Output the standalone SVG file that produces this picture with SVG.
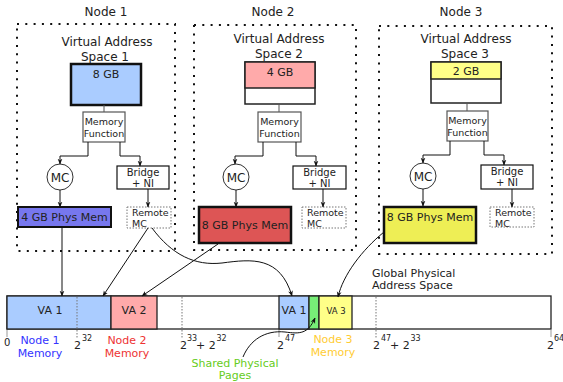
<svg xmlns="http://www.w3.org/2000/svg" width="563" height="382" viewBox="0 0 563 382">
<defs>
<marker id="ah" viewBox="0 0 10 10" refX="9" refY="5" markerWidth="6" markerHeight="6" orient="auto" markerUnits="userSpaceOnUse">
<path d="M0,1 L10,5 L0,9 L3,5 Z" fill="#111"/>
</marker>
<style>
text{font-family:"DejaVu Sans","Liberation Sans",sans-serif;fill:#222}
.t12{font-size:12px}
.t11{font-size:11px}
.t10{font-size:10px}
.t9{font-size:9.5px}
.sup{font-size:8px}
.node{fill:none;stroke:#111;stroke-width:2;stroke-dasharray:2 6.3}
.mf{fill:#fff;stroke:#555;stroke-width:1.2}
.br{fill:#fff;stroke:#111;stroke-width:1.2}
.rmc{fill:#fff;stroke:#777;stroke-width:1;stroke-dasharray:1.5 1.5}
.mc{fill:#fff;stroke:#333;stroke-width:1}
.cn{fill:none;stroke:#111;stroke-width:1}
.gn{fill:none;stroke:#555;stroke-width:1}
.bar{stroke:#222;stroke-width:1.3}
.dot{stroke:#777;stroke-width:1;stroke-dasharray:1.5 1.5}
.tick{stroke:#999;stroke-width:1}
</style>
</defs>

<g id="node1">
<text class="t12" x="106" y="16" text-anchor="middle">Node 1</text>
<rect class="node" x="17" y="24" width="158" height="227"/>
<text class="t12" x="107" y="46" text-anchor="middle">Virtual Address</text>
<text class="t12" x="105" y="61" text-anchor="middle">Space 1</text>
<rect x="71" y="64" width="70" height="41" fill="#aaccff" stroke="#111" stroke-width="2.5"/>
<text class="t11" x="106" y="78" text-anchor="middle">8 GB</text>
<rect class="mf" x="83" y="112" width="42" height="30"/>
<text class="t9" x="104" y="125" text-anchor="middle">Memory</text>
<text class="t9" x="104" y="137" text-anchor="middle">Function</text>
<circle class="mc" cx="60" cy="177" r="13"/>
<text class="t12" x="60" y="181.5" text-anchor="middle">MC</text>
<rect class="br" x="117" y="166" width="52" height="23"/>
<text class="t10" x="143" y="176" text-anchor="middle">Bridge</text>
<text class="t10" x="143" y="187" text-anchor="middle">+ NI</text>
<rect x="18" y="207" width="93" height="20" fill="#7777ee" stroke="#111" stroke-width="2"/>
<text class="t11" x="64.5" y="221" text-anchor="middle">4 GB Phys Mem</text>
<rect class="rmc" x="127" y="207" width="44" height="21"/>
<text class="t9" x="132" y="216">Remote</text>
<text class="t9" x="132" y="227">MC</text>
</g>

<g id="node2">
<text class="t12" x="273" y="16" text-anchor="middle">Node 2</text>
<rect class="node" x="194" y="25" width="162" height="225"/>
<text class="t12" x="279" y="43" text-anchor="middle">Virtual Address</text>
<text class="t12" x="279" y="58" text-anchor="middle">Space 2</text>
<rect x="245" y="62" width="70" height="42" fill="#fff" stroke="#222" stroke-width="1.5"/>
<rect x="245" y="62" width="70" height="26" fill="#ffaaaa" stroke="#222" stroke-width="1.5"/>
<text class="t11" x="280" y="76" text-anchor="middle">4 GB</text>
<rect class="mf" x="258" y="112" width="43" height="30"/>
<text class="t9" x="279.5" y="125" text-anchor="middle">Memory</text>
<text class="t9" x="279.5" y="137" text-anchor="middle">Function</text>
<circle class="mc" cx="236" cy="177" r="13"/>
<text class="t12" x="236" y="181.5" text-anchor="middle">MC</text>
<rect class="br" x="293" y="166" width="53" height="23"/>
<text class="t10" x="319.5" y="176" text-anchor="middle">Bridge</text>
<text class="t10" x="319.5" y="187" text-anchor="middle">+ NI</text>
<rect x="199" y="207" width="92" height="36" fill="#dd5555" stroke="#111" stroke-width="2.5"/>
<text class="t11" x="245" y="229" text-anchor="middle">8 GB Phys Mem</text>
<rect class="rmc" x="302" y="207" width="44" height="21"/>
<text class="t9" x="307" y="216">Remote</text>
<text class="t9" x="307" y="227">MC</text>
</g>

<g id="node3">
<text class="t12" x="461" y="16" text-anchor="middle">Node 3</text>
<rect class="node" x="379" y="26" width="173" height="228"/>
<text class="t12" x="466" y="43" text-anchor="middle">Virtual Address</text>
<text class="t12" x="465" y="58" text-anchor="middle">Space 3</text>
<rect x="431" y="62" width="70" height="41" fill="#fff" stroke="#222" stroke-width="1.5"/>
<rect x="431" y="62" width="70" height="17" fill="#ffff88" stroke="#222" stroke-width="1.5"/>
<text class="t11" x="466" y="75" text-anchor="middle">2 GB</text>
<rect class="mf" x="447" y="111" width="41" height="30"/>
<text class="t9" x="467.5" y="124" text-anchor="middle">Memory</text>
<text class="t9" x="467.5" y="136" text-anchor="middle">Function</text>
<circle class="mc" cx="423" cy="176" r="13"/>
<text class="t12" x="423" y="180.5" text-anchor="middle">MC</text>
<rect class="br" x="481" y="165" width="52" height="24"/>
<text class="t10" x="507" y="175" text-anchor="middle">Bridge</text>
<text class="t10" x="507" y="186" text-anchor="middle">+ NI</text>
<rect x="384" y="207" width="92" height="36" fill="#eeee55" stroke="#111" stroke-width="2.5"/>
<text class="t11" x="430" y="221" text-anchor="middle">8 GB Phys Mem</text>
<rect class="rmc" x="490" y="207" width="44" height="20"/>
<text class="t9" x="495" y="216">Remote</text>
<text class="t9" x="495" y="227">MC</text>
</g>

<g id="global-space">
<rect class="bar" x="7" y="296" width="544" height="33" fill="#fff"/>
<rect class="bar" x="7" y="296" width="104" height="33" fill="#aaccff"/>
<rect class="bar" x="111" y="296" width="46" height="33" fill="#ffaaaa"/>
<rect class="bar" x="279" y="296" width="30" height="33" fill="#aaccff"/>
<rect class="bar" x="309" y="296" width="10" height="33" fill="#77ee77"/>
<rect class="bar" x="319" y="296" width="33" height="33" fill="#ffff88"/>
<line class="dot" x1="77" y1="297" x2="77" y2="338"/>
<line class="dot" x1="182" y1="297" x2="182" y2="338"/>
<line class="dot" x1="376" y1="297" x2="376" y2="338"/>
<line class="tick" x1="7" y1="330" x2="7" y2="337"/>
<line class="tick" x1="279" y1="330" x2="279" y2="337"/>
<line class="tick" x1="551" y1="330" x2="551" y2="337"/>
<text class="t11" x="50" y="314" text-anchor="middle">VA 1</text>
<text class="t11" x="134" y="314" text-anchor="middle">VA 2</text>
<text class="t11" x="294" y="314" text-anchor="middle">VA 1</text>
<text x="336" y="314" text-anchor="middle" style="font-size:8.5px">VA 3</text>
<text class="t10" x="4" y="346">0</text>
<text class="t11" x="74" y="349">2</text><text class="sup" x="82" y="341">32</text>
<text class="t11" x="180" y="349">2</text><text class="sup" x="187" y="341">33</text><text class="t11" x="196" y="349">+ 2</text><text class="sup" x="216.5" y="341">32</text>
<text class="t11" x="277" y="349">2</text><text class="sup" x="285" y="341">47</text>
<text class="t11" x="373" y="349">2</text><text class="sup" x="381" y="341">47</text><text class="t11" x="390" y="349">+ 2</text><text class="sup" x="410.5" y="341">33</text>
<text class="t11" x="547" y="349">2</text><text class="sup" x="554" y="341">64</text>
<text class="t11" x="40" y="344" text-anchor="middle" style="fill:#3333ff">Node 1</text>
<text class="t11" x="40" y="357" text-anchor="middle" style="fill:#3333ff">Memory</text>
<text class="t11" x="127" y="344" text-anchor="middle" style="fill:#ee3333">Node 2</text>
<text class="t11" x="127" y="357" text-anchor="middle" style="fill:#ee3333">Memory</text>
<text class="t11" x="333" y="343" text-anchor="middle" style="fill:#ffcc33">Node 3</text>
<text class="t11" x="333" y="356" text-anchor="middle" style="fill:#ffcc33">Memory</text>
<text class="t11" x="235" y="367" text-anchor="middle" style="fill:#66cc22">Shared Physical</text>
<text class="t11" x="235" y="379" text-anchor="middle" style="fill:#66cc22">Pages</text>
<text class="t11" x="372" y="277">Global Physical</text>
<text class="t11" x="372" y="289">Address Space</text>
</g>

<g id="connectors">
<line class="gn" x1="104" y1="105" x2="104" y2="112"/>
<line class="gn" x1="279" y1="104" x2="279" y2="112"/>
<line class="gn" x1="467" y1="103" x2="467" y2="111"/>
<path class="cn" d="M88,142 V156 H60 V164" marker-end="url(#ah)"/>
<path class="cn" d="M120,142 V156 H140 V166" marker-end="url(#ah)"/>
<path class="cn" d="M60,190 V207" marker-end="url(#ah)"/>
<path class="cn" d="M148,189 V207" marker-end="url(#ah)"/>
<path class="cn" d="M263,142 V156 H235 V164" marker-end="url(#ah)"/>
<path class="cn" d="M296,142 V156 H316 V166" marker-end="url(#ah)"/>
<path class="cn" d="M236,190 V207" marker-end="url(#ah)"/>
<path class="cn" d="M323,189 V207" marker-end="url(#ah)"/>
<path class="cn" d="M450,141 V155 H423 V163" marker-end="url(#ah)"/>
<path class="cn" d="M484,141 V155 H504 V165" marker-end="url(#ah)"/>
<path class="cn" d="M423,189 V206" marker-end="url(#ah)"/>
<path class="cn" d="M512,189 V207" marker-end="url(#ah)"/>
<path class="cn" d="M62,227 V296" marker-end="url(#ah)"/>
<path class="cn" d="M148,228 L103,296" marker-end="url(#ah)"/>
<path class="cn" d="M152,228 C172,255 195,266 222,263 C252,259 280,256 292,296" marker-end="url(#ah)"/>
<path class="cn" d="M218,244 L142,296" marker-end="url(#ah)"/>
<path class="cn" d="M384,232 C362,250 343,275 338,297" marker-end="url(#ah)"/>
<path class="cn" d="M243,357 C250,340 265,330 285,332 C300,334 308,334 315,318" marker-end="url(#ah)"/>
</g>
</svg>
